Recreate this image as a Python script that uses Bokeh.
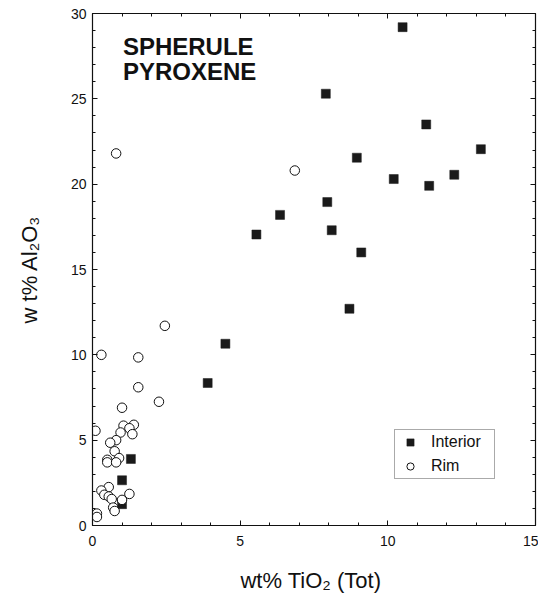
from bokeh.plotting import figure
from bokeh.models import (Range1d, LinearAxis, SingleIntervalTicker, Label,
                          Legend, LegendItem)
from bokeh.embed import file_html
from bokeh.resources import INLINE

# ---- data ----
interior_tio2 = [10.5, 7.9, 11.3, 13.15, 8.95, 10.2, 11.4, 12.25, 7.95, 6.35,
                 5.55, 8.1, 9.1, 8.7, 4.5, 3.9, 1.3, 1.0, 1.0]
interior_al2o3 = [29.2, 25.3, 23.5, 22.05, 21.55, 20.3, 19.9, 20.55, 18.95, 18.2,
                  17.05, 17.3, 16.0, 12.7, 10.65, 8.35, 3.9, 2.65, 1.25]

rim_tio2 = [0.8, 6.85, 2.45, 0.3, 1.55, 1.55, 2.25, 1.0, 0.1, 1.05, 1.4, 1.25,
            1.35, 0.95, 0.8, 0.6, 0.75, 0.9, 0.5, 0.5, 0.8, 0.55, 0.3, 0.4,
            0.55, 0.65, 1.0, 1.25, 0.7, 0.75, 0.15, 0.15]
rim_al2o3 = [21.8, 20.8, 11.7, 10.0, 9.85, 8.1, 7.25, 6.9, 5.55, 5.85, 5.9, 5.7,
             5.35, 5.45, 5.0, 4.85, 4.35, 3.95, 3.85, 3.7, 3.7, 2.25, 2.05, 1.8,
             1.7, 1.55, 1.5, 1.85, 1.05, 0.85, 0.7, 0.5]

title_lines = ["SPHERULE", "PYROXENE"]
series_names = ["Interior", "Rim"]
x_label = "wt% TiO\u2082  (Tot)"
y_label = "w t% Al\u2082O\u2083"

FONT = "Liberation Sans"

p = figure(width=538, height=597, output_backend="svg", toolbar_location=None,
           x_range=Range1d(0, 15), y_range=Range1d(0, 30),
           min_border_left=92, min_border_right=3, min_border_top=13,
           min_border_bottom=72, x_axis_location=None, y_axis_location=None)
p.grid.visible = False
p.outline_line_color = None
p.background_fill_color = "white"
p.border_fill_color = "white"


def style_axis(ax, show_labels):
    ax.major_tick_in = 5
    ax.major_tick_out = 0
    ax.minor_tick_in = 3
    ax.minor_tick_out = 0
    ax.axis_line_color = "#111111"
    ax.major_tick_line_color = "#111111"
    ax.minor_tick_line_color = "#111111"
    ax.axis_line_width = 1.2
    if show_labels:
        ax.major_label_text_font = FONT
        ax.major_label_text_font_size = "14px"
        ax.major_label_text_color = "#111111"
    else:
        ax.major_label_text_font_size = "0px"
        ax.major_label_standoff = 0
        ax.major_label_text_color = None


xb = LinearAxis(ticker=SingleIntervalTicker(interval=5, num_minor_ticks=5))
style_axis(xb, True)
xb.major_label_standoff = 10
xb.axis_label = x_label
xb.axis_label_text_font = FONT
xb.axis_label_text_font_size = "22px"
xb.axis_label_text_font_style = "normal"
xb.axis_label_text_color = "#111111"
xb.axis_label_standoff = 19
p.add_layout(xb, "below")

yl = LinearAxis(ticker=SingleIntervalTicker(interval=5, num_minor_ticks=5))
style_axis(yl, True)
yl.major_label_standoff = 6
yl.axis_label = y_label
yl.axis_label_text_font = FONT
yl.axis_label_text_font_size = "22px"
yl.axis_label_text_font_style = "normal"
yl.axis_label_text_color = "#111111"
yl.axis_label_standoff = 26
p.add_layout(yl, "left")

xt = LinearAxis(ticker=SingleIntervalTicker(interval=5, num_minor_ticks=5))
style_axis(xt, False)
p.add_layout(xt, "above")

yr = LinearAxis(ticker=SingleIntervalTicker(interval=5, num_minor_ticks=5))
style_axis(yr, False)
p.add_layout(yr, "right")

r_int = p.scatter(interior_tio2, interior_al2o3, marker="square", size=9,
                  fill_color="#1a1a1a", line_color="#1a1a1a", line_width=0.5)
r_rim = p.scatter(rim_tio2, rim_al2o3, marker="circle", size=9.5,
                  fill_color="white", line_color="#111111", line_width=1)

for txt, yy in zip(title_lines, [28.08, 26.62]):
    p.add_layout(Label(x=1.03, y=yy, text=txt, text_font=FONT,
                       text_font_size="24px", text_font_style="bold",
                       text_color="#111111", text_baseline="alphabetic"))

legend = Legend(items=[LegendItem(label=series_names[0], renderers=[r_int]),
                       LegendItem(label=series_names[1], renderers=[r_rim])],
                location=(302, 46), orientation="vertical",
                padding=3, margin=0, spacing=6,
                glyph_width=24, glyph_height=18, label_standoff=9,
                label_width=60,
                label_text_font=FONT, label_text_font_size="16px",
                label_text_color="#111111",
                border_line_color="#555555", border_line_width=1,
                background_fill_color="white", background_fill_alpha=1)
p.add_layout(legend, "center")

open("out.html", "w").write(file_html(p, INLINE))
